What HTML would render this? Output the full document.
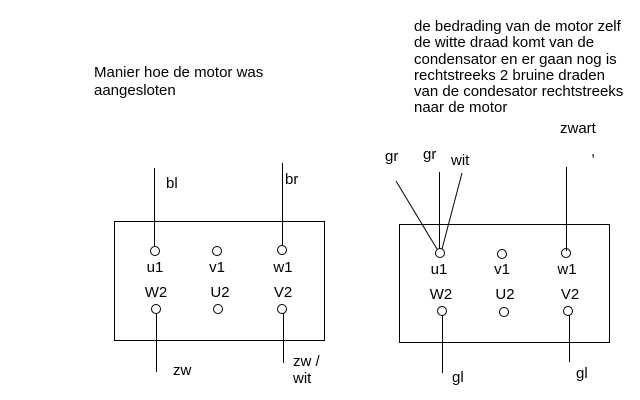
<html><body style="margin:0;background:#fff">
<svg width="640" height="400" xmlns="http://www.w3.org/2000/svg" style="display:block" font-family="Liberation Sans, sans-serif" font-size="15" fill="#000">
<rect width="640" height="400" fill="#fff"/>
<g stroke="#000" stroke-width="1" fill="none">
<rect x="114.5" y="221.5" width="210" height="119"/>
<circle cx="155" cy="251" r="4.5"/><circle cx="217" cy="251" r="4.5"/><circle cx="282" cy="250" r="4.5"/>
<circle cx="156" cy="309" r="4.5"/><circle cx="218" cy="309" r="4.5"/><circle cx="282" cy="309" r="4.5"/>
<line x1="154.5" y1="168" x2="154.5" y2="247"/>
<line x1="282.5" y1="163" x2="282.5" y2="246"/>
<line x1="156.5" y1="313" x2="156.5" y2="372"/>
<line x1="283.5" y1="313" x2="283.5" y2="363"/>
<rect x="399.5" y="224.5" width="210" height="118"/>
<circle cx="440" cy="253" r="4.5"/><circle cx="502" cy="254" r="4.5"/><circle cx="566" cy="253" r="4.5"/>
<circle cx="442" cy="311" r="4.5"/><circle cx="504" cy="312" r="4.5"/><circle cx="568" cy="311" r="4.5"/>
<line x1="396" y1="181" x2="437" y2="249"/>
<line x1="439.5" y1="172" x2="439.5" y2="248"/>
<line x1="462" y1="173" x2="442" y2="249"/>
<line x1="566.5" y1="167" x2="566.5" y2="251"/>
<line x1="442.5" y1="315" x2="442.5" y2="373"/>
<line x1="569.5" y1="315" x2="569.5" y2="362"/>
</g>
<text x="94" y="77">Manier hoe de motor was</text>
<text x="94" y="95">aangesloten</text>
<text x="166" y="188">bl</text>
<text x="285" y="184">br</text>
<text x="155" y="272" text-anchor="middle">u1</text>
<text x="217" y="272" text-anchor="middle">v1</text>
<text x="283" y="272" text-anchor="middle">w1</text>
<text x="156" y="297" text-anchor="middle">W2</text>
<text x="220" y="297" text-anchor="middle">U2</text>
<text x="283" y="297" text-anchor="middle">V2</text>
<text x="173" y="375">zw</text>
<text x="293" y="366">zw /</text>
<text x="293" y="383">wit</text>
<text x="414" y="31">de bedrading van de motor zelf</text>
<text x="414" y="47">de witte draad komt van de</text>
<text x="414" y="64">condensator en er gaan nog is</text>
<text x="414" y="80">rechtstreeks 2 bruine draden</text>
<text x="414" y="96">van de condesator rechtstreeks</text>
<text x="414" y="112">naar de motor</text>
<text x="560" y="133">zwart</text>
<text x="591" y="156">,</text>
<text x="385" y="161">gr</text>
<text x="423" y="159">gr</text>
<text x="451" y="165">wit</text>
<text x="439" y="274" text-anchor="middle">u1</text>
<text x="502" y="274" text-anchor="middle">v1</text>
<text x="567" y="274" text-anchor="middle">w1</text>
<text x="441" y="299" text-anchor="middle">W2</text>
<text x="505" y="299" text-anchor="middle">U2</text>
<text x="570" y="299" text-anchor="middle">V2</text>
<text x="452" y="382">gl</text>
<text x="576" y="378">gl</text>
</svg>
</body></html>
